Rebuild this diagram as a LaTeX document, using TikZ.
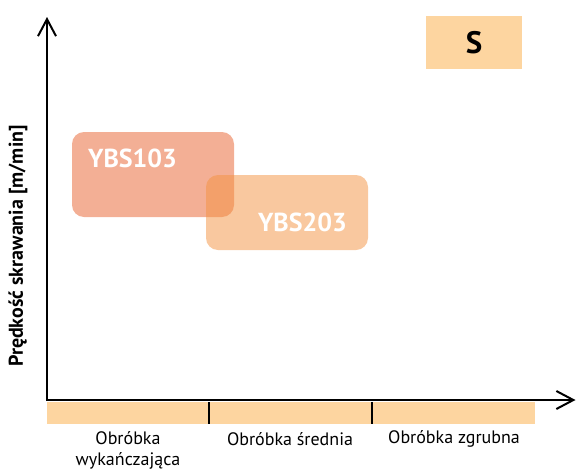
\documentclass[tikz,border=0pt]{standalone}
\usepackage{fontspec}
\setmainfont{PT Sans}
\usetikzlibrary{arrows.meta}
\definecolor{peach}{HTML}{FDD5A0}
\definecolor{salmon}{HTML}{E8602C}
\definecolor{apricot}{HTML}{F39240}
\begin{document}
\begin{tikzpicture}[x=1pt,y=-1pt,
    axis/.style={line width=2pt, {Straight Barb[length=17pt,width=18pt,line width=2pt]}-{Straight Barb[length=17pt,width=18pt,line width=2pt]}},
    zone/.style={rounded corners=12pt, fill opacity=0.5, draw=none, inner sep=0pt},
    zonetext/.style={text=white, font=\bfseries\fontsize{26}{28}\selectfont, inner sep=0pt},
    caption/.style={align=center, font=\fontsize{18}{21}\selectfont, inner sep=0pt}]
    \useasboundingbox (0,0) rectangle (576,469);
    % symbol box
    \node[fill=peach, minimum width=96pt, minimum height=53pt, inner sep=0pt] (sbox) at (474,42.5) {};
    \node[font=\bfseries\fontsize{31}{33}\selectfont, inner sep=0pt] (stext) at (sbox) {S};
    % ranges
    \node[zone, fill=salmon, minimum width=162pt, minimum height=85pt] (ybs103) at (153,174.5) {};
    \node[zone, fill=apricot, minimum width=162pt, minimum height=75pt] (ybs203) at (287,212.5) {};
    \node[zonetext, anchor=west] (t103) at (88,158) {YBS103};
    \node[zonetext, anchor=east] (t203) at (347,222) {YBS203};
    % scale band
    \fill[peach] (47,402) rectangle (535,424);
    \draw[line width=2pt] (209,402) -- (209,424);
    \draw[line width=2pt] (372,402) -- (372,424);
    % axes
    \coordinate (origin) at (47,400);
    \coordinate (ytop) at (47,17);
    \coordinate (xend) at (575.5,400);
    \draw[axis] (ytop) -- (origin) -- (xend);
    \node[rotate=90, font=\bfseries\fontsize{20}{22}\selectfont, inner sep=0pt] (ylab) at (18,246) {Prędkość skrawania [m/min]};
    \node[caption] (finish) at (128,450) {Obróbka\\wykańczająca};
    \node[caption] (medium) at (290,439) {Obróbka średnia};
    \node[caption] (rough) at (454,439) {Obróbka zgrubna};
\end{tikzpicture}
\end{document}
